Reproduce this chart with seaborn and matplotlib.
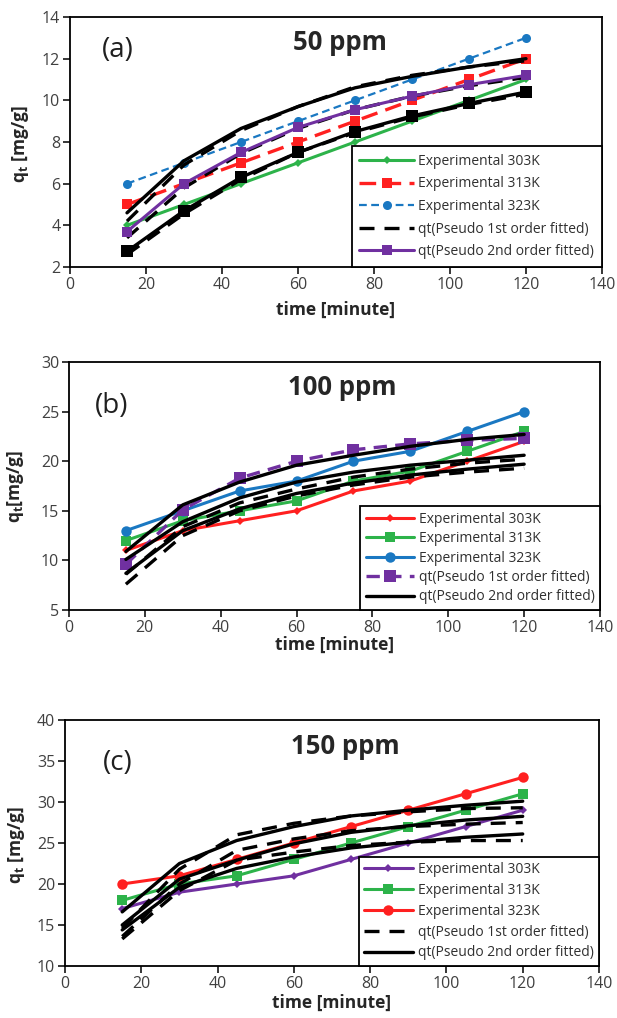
import matplotlib
matplotlib.use("Agg")
import matplotlib.pyplot as plt
import seaborn as sns

# ---------------- data ----------------
time_min = [15, 30, 45, 60, 75, 90, 105, 120]
x_ticks = [0, 20, 40, 60, 80, 100, 120, 140]

# (a) 50 ppm
a_exp303 = [4, 5, 6, 7, 8, 9, 10, 11]
a_exp313 = [5, 6, 7, 8, 9, 10, 11, 12]
a_exp323 = [6, 7, 8, 9, 10, 11, 12, 13]
a_pfo1 = [2.6, 4.55, 6.2, 7.5, 8.45, 9.2, 9.8, 10.3]
a_pfo2 = [3.4, 5.8, 7.45, 8.65, 9.55, 10.2, 10.7, 11.1]
a_pfo3 = [4.2, 6.9, 8.55, 9.7, 10.65, 11.2, 11.6, 11.9]
a_pso1 = [2.75, 4.7, 6.3, 7.5, 8.5, 9.25, 9.85, 10.4]
a_pso2 = [3.7, 6.0, 7.5, 8.7, 9.55, 10.2, 10.75, 11.2]
a_pso3 = [4.6, 7.1, 8.65, 9.7, 10.6, 11.15, 11.6, 12.0]

# (b) 100 ppm
b_exp303 = [11, 13, 14, 15, 17, 18, 20, 22]
b_exp313 = [12, 14, 15, 16, 18, 19, 21, 23]
b_exp323 = [13, 15, 17, 18, 20, 21, 23, 25]
b_pfo1 = [7.6, 12.5, 15.0, 16.5, 17.6, 18.4, 18.9, 19.3]
b_pfo2 = [8.6, 13.4, 15.8, 17.2, 18.4, 19.2, 19.8, 20.2]
b_pfo3 = [9.6, 15.1, 18.3, 20.0, 21.15, 21.75, 22.1, 22.3]
b_pso1 = [8.7, 13.0, 15.2, 16.75, 17.8, 18.6, 19.2, 19.7]
b_pso2 = [10.1, 13.9, 16.3, 17.9, 18.9, 19.6, 20.1, 20.6]
b_pso3 = [10.9, 15.6, 17.9, 19.6, 20.6, 21.5, 22.2, 22.7]

# (c) 150 ppm
c_exp303 = [17, 19, 20, 21, 23, 25, 27, 29]
c_exp313 = [18, 20, 21, 23, 25, 27, 29, 31]
c_exp323 = [20, 21, 23, 25, 27, 29, 31, 33]
c_pfo1 = [13.3, 19.2, 22.9, 23.9, 24.7, 25.1, 25.3, 25.3]
c_pfo2 = [13.6, 20.0, 24.1, 25.5, 26.5, 27.0, 27.3, 27.5]
c_pfo3 = [14.6, 21.8, 26.0, 27.4, 28.3, 28.8, 29.2, 29.3]
c_pso1 = [14.4, 19.6, 21.9, 23.3, 24.4, 25.1, 25.7, 26.1]
c_pso2 = [15.0, 20.6, 22.9, 24.9, 26.3, 27.1, 27.8, 28.25]
c_pso3 = [16.6, 22.5, 25.3, 27.0, 28.3, 29.0, 29.6, 30.1]

legend_labels = ["Experimental 303K", "Experimental 313K", "Experimental 323K",
                 "qt(Pseudo 1st order fitted)", "qt(Pseudo 2nd order fitted)"]

# ---------------- style ----------------
sns.set_theme(style="white")
plt.rcParams['font.family'] = ['Open Sans', 'DejaVu Sans']
plt.rcParams['mathtext.fontset'] = 'custom'
plt.rcParams['mathtext.rm'] = 'Open Sans'
plt.rcParams['mathtext.bf'] = 'Open Sans:bold'
plt.rcParams['mathtext.it'] = 'Open Sans:italic'

GREEN = '#2DB34A'
RED = '#FF2020'
BLUE = '#1A78C2'
PURPLE = '#7030A0'
BLACK = '#000000'

fig = plt.figure(figsize=(6.17, 10.18), dpi=100)


def draw(ax, y, color, ls='-', marker=None, ms=6, lw=2.2):
    kws = dict(color=color, linestyle=ls, linewidth=lw)
    if marker is not None:
        kws.update(marker=marker, markersize=ms, markeredgewidth=0,
                   markerfacecolor=color, markeredgecolor=color)
    sns.lineplot(x=time_min, y=y, ax=ax, legend=False, errorbar=None, **kws)
    return ax.lines[-1]


def style_axes(ax, ylim, yticks, ylabel, letter, letter_pos, title, title_pos,
               xlabel_y, ylabel_pos, handles, lspace, hlen, bpad):
    ax.set_xlim(0, 140)
    ax.set_ylim(*ylim)
    ax.set_xticks(x_ticks)
    ax.set_yticks(yticks)
    ax.tick_params(axis='both', direction='out', length=5, width=1.1,
                   color='black', labelsize=11.5, labelcolor='#404040',
                   bottom=True, left=True, pad=2)
    for sp in ax.spines.values():
        sp.set_color('black')
        sp.set_linewidth(1.3)
        sp.set_visible(True)
    ax.set_xlabel('time [minute]', fontsize=12.5, fontweight='bold', va='center')
    ax.xaxis.set_label_coords(0.5, xlabel_y)
    ax.set_ylabel(ylabel, fontsize=12.5, fontweight='bold', va='center')
    ax.yaxis.set_label_coords(*ylabel_pos)
    ax.text(letter_pos[0], letter_pos[1], letter, transform=ax.transAxes,
            fontsize=20, ha='center', va='center', color='#202020')
    ax.text(title_pos[0], title_pos[1], title, transform=ax.transAxes,
            fontsize=18.5, fontweight='bold', ha='center', va='center')
    leg = ax.legend(handles, legend_labels, loc='lower right',
                    bbox_to_anchor=(1.0, 0.0), borderaxespad=0.0,
                    frameon=True, fancybox=False, framealpha=1.0,
                    edgecolor='black', fontsize=10, handlelength=hlen,
                    handletextpad=0.35, labelspacing=lspace, borderpad=bpad)
    leg.get_frame().set_linewidth(1.3)
    for txt in leg.get_texts():
        txt.set_color('#303030')


# ---------------- panel (a) ----------------
ax_a = fig.add_axes([70 / 617, 1 - 267 / 1018, 532 / 617, 250 / 1018])
h1 = draw(ax_a, a_exp303, GREEN, '-', 'D', 4.5, 2.2)
h2 = draw(ax_a, a_exp313, RED, (0, (5, 2.5)), 's', 7.5, 2.4)
h3 = draw(ax_a, a_exp323, BLUE, (0, (3.5, 2)), 'o', 6.5, 1.6)
h4 = draw(ax_a, a_pfo1, BLACK, (0, (4.5, 3)), None, lw=2.4)
draw(ax_a, a_pfo2, BLACK, (0, (4.5, 3)), None, lw=2.4)
draw(ax_a, a_pfo3, BLACK, (0, (4.5, 3)), None, lw=2.4)
draw(ax_a, a_pso1, BLACK, '-', 's', 8.5, 2.4)
h5 = draw(ax_a, a_pso2, PURPLE, '-', 's', 7.5, 2.2)
draw(ax_a, a_pso3, BLACK, '-', None, lw=2.4)
style_axes(ax_a, (2, 14), [2, 4, 6, 8, 10, 12, 14], r'$\mathbf{q_t}$ [mg/g]',
           '(a)', (0.09, 0.867), '50 ppm', (0.507, 0.9), -0.172, (-0.093, 0.49),
           [h1, h2, h3, h4, h5], 0.55, 3.9, 0.55)

# ---------------- panel (b) ----------------
ax_b = fig.add_axes([69 / 617, 1 - 610 / 1018, 531 / 617, 248 / 1018])
h1 = draw(ax_b, b_exp303, RED, '-', 'D', 4.5, 2.2)
h2 = draw(ax_b, b_exp313, GREEN, '-', 's', 7, 2.2)
h3 = draw(ax_b, b_exp323, BLUE, '-', 'o', 7.5, 2.2)
draw(ax_b, b_pfo1, BLACK, (0, (4.5, 3)), None, lw=2.4)
draw(ax_b, b_pfo2, BLACK, (0, (4.5, 3)), None, lw=2.4)
h4 = draw(ax_b, b_pfo3, PURPLE, (0, (4, 2.5)), 's', 8, 2.4)
draw(ax_b, b_pso1, BLACK, '-', None, lw=2.4)
draw(ax_b, b_pso2, BLACK, '-', None, lw=2.4)
h5 = draw(ax_b, b_pso3, BLACK, '-', None, lw=2.4)
style_axes(ax_b, (5, 30), [5, 10, 15, 20, 25, 30], r'$\mathbf{q_t}$[mg/g]',
           '(b)', (0.08, 0.824), '100 ppm', (0.515, 0.896), -0.141, (-0.10, 0.5),
           [h1, h2, h3, h4, h5], 0.32, 3.45, 0.4)

# ---------------- panel (c) ----------------
ax_c = fig.add_axes([65 / 617, 1 - 966 / 1018, 534 / 617, 246 / 1018])
h1 = draw(ax_c, c_exp303, PURPLE, '-', 'D', 4.5, 2.2)
h2 = draw(ax_c, c_exp313, GREEN, '-', 's', 7, 2.2)
h3 = draw(ax_c, c_exp323, RED, '-', 'o', 7.5, 2.2)
h4 = draw(ax_c, c_pfo1, BLACK, (0, (4.5, 3)), None, lw=2.4)
draw(ax_c, c_pfo2, BLACK, (0, (4.5, 3)), None, lw=2.4)
draw(ax_c, c_pfo3, BLACK, (0, (4.5, 3)), None, lw=2.4)
h5 = draw(ax_c, c_pso1, BLACK, '-', None, lw=2.4)
draw(ax_c, c_pso2, BLACK, '-', None, lw=2.4)
draw(ax_c, c_pso3, BLACK, '-', None, lw=2.4)
style_axes(ax_c, (10, 40), [10, 15, 20, 25, 30, 35, 40], r'$\mathbf{q_t}$ [mg/g]',
           '(c)', (0.098, 0.826), '150 ppm', (0.524, 0.894), -0.150, (-0.09, 0.49),
           [h1, h2, h3, h4, h5], 0.42, 3.5, 0.4)

fig.savefig('out.png', dpi=100)
